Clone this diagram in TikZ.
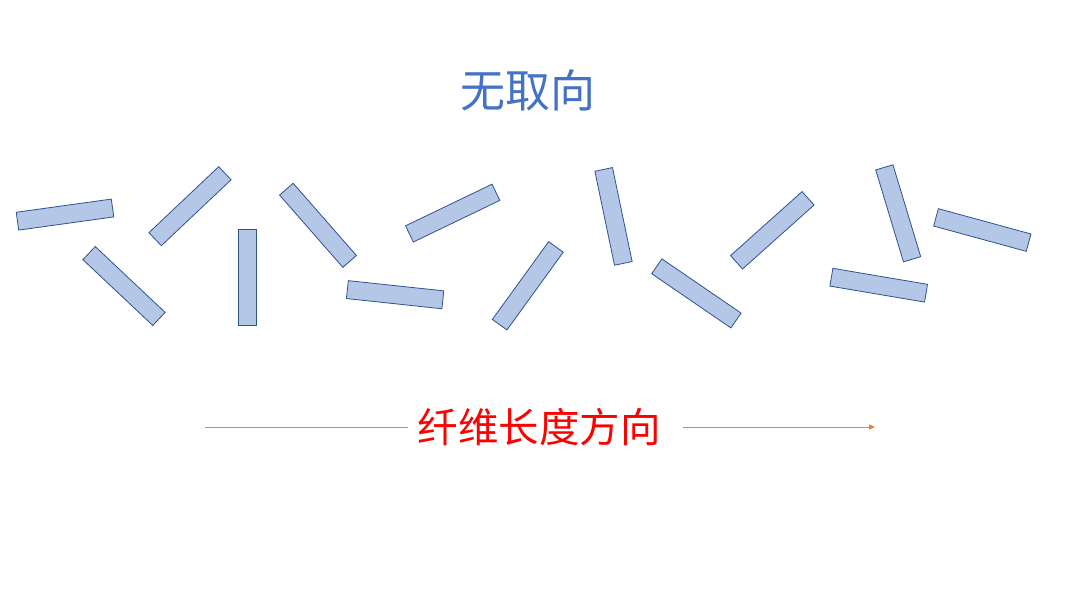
\documentclass[tikz,border=0pt]{standalone}
\usepackage{fontspec}
\newfontfamily\cjk{Noto Sans CJK SC}
\usetikzlibrary{arrows.meta}
\definecolor{fibfill}{HTML}{B4C7E7}
\definecolor{fibdraw}{HTML}{2F528F}
\definecolor{titleblue}{HTML}{4472C4}
\definecolor{arroworange}{HTML}{ED7D31}
\begin{document}
\begin{tikzpicture}[x=1pt,y=1pt,
  fiber/.style={draw=fibdraw,fill=fibfill,line width=0.8pt,minimum width=96pt,minimum height=18pt,inner sep=0pt,outer sep=0pt},
  titletext/.style={font=\cjk\fontsize{45}{50}\selectfont,text=titleblue,inner sep=0pt},
  dirtext/.style={font=\cjk\fontsize{40.5}{46}\selectfont,text=red,inner sep=0pt},
  dirline/.style={draw=arroworange,line width=0.9pt}]
\useasboundingbox[fill=white] (0,0) rectangle (1080,-611);
\node[titletext] (title) at (528,-90) {无取向};
\node[fiber,rotate=7.9] (f1) at (65,-214.6) {};
\node[fiber,rotate=-43.3] (f2) at (124,-286) {};
\node[fiber,rotate=43.4] (f3) at (190,-206.2) {};
\node[fiber,rotate=90] (f4) at (247.8,-277) {};
\node[fiber,rotate=-48.8] (f5) at (318,-225.3) {};
\node[fiber,rotate=-6.1] (f6) at (395.1,-294.7) {};
\node[fiber,rotate=25.7] (f7) at (452.7,-213.1) {};
\node[fiber,rotate=54.1] (f8) at (527.8,-285.8) {};
\node[fiber,rotate=-78.2] (f9) at (613.5,-216.4) {};
\node[fiber,rotate=-34.4] (f10) at (696.4,-293.4) {};
\node[fiber,rotate=41.8] (f11) at (772.3,-230.3) {};
\node[fiber,rotate=-73.2] (f12) at (898.2,-213.3) {};
\node[fiber,rotate=-15.3] (f13) at (982.3,-230) {};
\node[fiber,rotate=-9.6] (f14) at (878.7,-285.2) {};
\node[dirtext] (dir) at (539,-427) {纤维长度方向};
\coordinate (ls) at (205,-427);
\coordinate (le) at (408,-427);
\coordinate (rs) at (683,-427);
\coordinate (re) at (875,-427);
\draw[dirline] (ls) -- (le);
\draw[dirline,-{Triangle[length=6pt,width=5pt]}] (rs) -- (re);
\end{tikzpicture}
\end{document}
